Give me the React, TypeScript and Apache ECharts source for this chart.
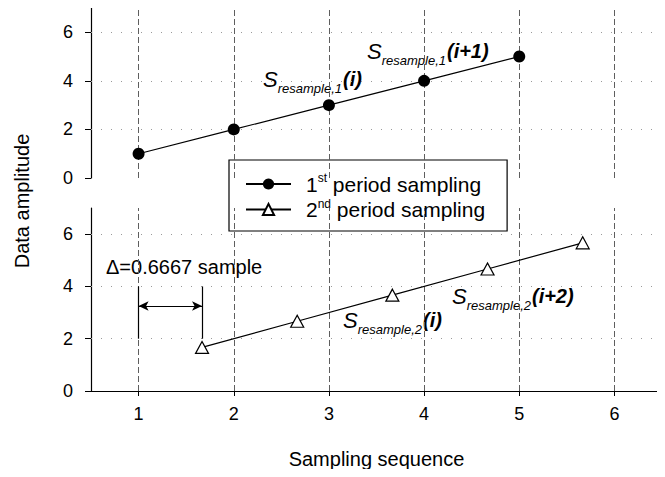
import { useEffect, useRef } from "react";
import * as echarts from "echarts";

// Sample positions and amplitudes of the two sampling periods
const firstPeriodX = [1, 2, 3, 4, 5];
const firstPeriodY = [1, 2, 3, 4, 5];
const secondPeriodX = [1.6667, 2.6667, 3.6667, 4.6667, 5.6667];
const secondPeriodY = [1.6667, 2.6667, 3.6667, 4.6667, 5.6667];

// Axis ticks
const xTicks = [1, 2, 3, 4, 5, 6];
const yTicks = [0, 2, 4, 6];
const xRange = [0.5, 6.5];
const yRange = [0, 7];

// Offset between the two periods
const delta = 0.6667;
const deltaBracket = [2, 4];
const deltaArrowY = 3.25;

const seriesNames = ["1st period sampling", "2nd period sampling"];

const FONT = '"Liberation Sans", Arial, Helvetica, sans-serif';

const subRich = {
  s: { fontSize: 22, fontStyle: "italic", fontFamily: FONT, color: "#000", lineHeight: 30, verticalAlign: "middle" },
  sub: { fontSize: 13, fontStyle: "italic", fontFamily: FONT, color: "#000", lineHeight: 31, verticalAlign: "bottom", padding: [0, 1, 0, 0] },
  p: { fontSize: 20, fontStyle: "italic", fontWeight: "bold", fontFamily: FONT, color: "#000", lineHeight: 30, verticalAlign: "middle" },
};

function annotation(x: number, y: number, idx: string, arg: string) {
  return {
    type: "text",
    x,
    y,
    silent: true,
    style: {
      text: `{s|S}{sub|resample,${idx}}{p|(${arg})}`,
      rich: subRich,
      textAlign: "left",
      textVerticalAlign: "middle",
    },
  };
}

export default function App() {
  const ref = useRef<HTMLDivElement>(null);

  useEffect(() => {
    if (!ref.current) return;
    const chart = echarts.init(ref.current, null, { renderer: "svg" });

    const gridLineSeries = (axisIdx: number) => ({
      type: "line",
      xAxisIndex: axisIdx,
      yAxisIndex: axisIdx,
      data: [],
      silent: true,
      z: 1,
      markLine: {
        silent: true,
        symbol: ["none", "none"],
        label: { show: false },
        emphasis: { disabled: true },
        animation: false,
        data: [
          ...xTicks.map((v) => ({
            xAxis: v,
            lineStyle: { color: "#5e5e5e", width: 1, type: [6, 3] },
          })),
          ...yTicks.filter((v) => v > 0).map((v) => ({
            yAxis: v,
            lineStyle: { color: "#9a9a9a", width: 1, type: [1, 9] },
          })),
        ],
      },
    });

    const axisLabelStyle = { fontFamily: FONT, fontSize: 18, color: "#000" };

    chart.setOption({
      animation: false,
      backgroundColor: "#fff",
      grid: [
        { left: 91, top: 8, width: 571, height: 170 },
        { left: 91, top: 208, width: 571, height: 183 },
      ],
      xAxis: [
        {
          type: "value",
          gridIndex: 0,
          min: xRange[0],
          max: xRange[1],
          axisLine: { show: false },
          axisTick: { show: false },
          axisLabel: { show: false },
          splitLine: { show: false },
        },
        {
          type: "value",
          gridIndex: 1,
          min: xRange[0],
          max: xRange[1],
          name: "Sampling sequence",
          nameLocation: "middle",
          nameGap: 58,
          nameTextStyle: { fontFamily: FONT, fontSize: 20, color: "#000" },
          axisLine: { show: true, lineStyle: { color: "#000", width: 1.2 } },
          axisTick: { show: true, inside: false, length: 5, customValues: xTicks, lineStyle: { color: "#000" } },
          axisLabel: { show: true, customValues: xTicks, margin: 14, ...axisLabelStyle },
          splitLine: { show: false },
        },
      ],
      yAxis: [0, 1].map((g) => ({
        type: "value",
        gridIndex: g,
        min: yRange[0],
        max: yRange[1],
        axisLine: { show: true, lineStyle: { color: "#000", width: 1.2 } },
        axisTick: { show: true, inside: false, length: 6, customValues: yTicks, lineStyle: { color: "#000" } },
        axisLabel: { show: true, customValues: yTicks, margin: 18, ...axisLabelStyle },
        splitLine: { show: false },
      })),
      legend: {
        orient: "vertical",
        left: 229,
        top: 160,
        padding: [12, 22, 11, 16],
        itemGap: 3,
        itemWidth: 45,
        itemHeight: 14,
        borderColor: "#000",
        borderWidth: 1.2,
        backgroundColor: "#fff",
        selectedMode: false,
        data: seriesNames,
        formatter: (name: string) =>
          name === seriesNames[0]
            ? "{n|1}{sup|st}{t| period sampling}"
            : "{n|2}{sup|nd}{t| period sampling}",
        textStyle: {
          fontFamily: FONT,
          fontSize: 21,
          color: "#000",
          rich: {
            n: { fontFamily: FONT, fontSize: 21, color: "#000", lineHeight: 24, padding: [0, 0, 0, 10] },
            sup: { fontFamily: FONT, fontSize: 12, color: "#000", lineHeight: 24, verticalAlign: "top" },
            t: { fontFamily: FONT, fontSize: 21, color: "#000", lineHeight: 24 },
          },
        },
      },
      series: [
        gridLineSeries(0),
        gridLineSeries(1),
        {
          name: seriesNames[0],
          type: "line",
          xAxisIndex: 0,
          yAxisIndex: 0,
          z: 5,
          data: firstPeriodX.map((x, i) => [x, firstPeriodY[i]]),
          symbol: "circle",
          symbolSize: 12,
          itemStyle: { color: "#000" },
          lineStyle: { color: "#000", width: 1.2 },
        },
        {
          name: seriesNames[1],
          type: "line",
          xAxisIndex: 1,
          yAxisIndex: 1,
          z: 5,
          data: secondPeriodX.map((x, i) => [x, secondPeriodY[i]]),
          symbol: "triangle",
          symbolSize: [13, 12],
          itemStyle: { color: "#fff", borderColor: "#000", borderWidth: 1.2 },
          lineStyle: { color: "#000", width: 1.2 },
        },
        {
          // bracket and double arrow marking the offset between periods
          type: "line",
          xAxisIndex: 1,
          yAxisIndex: 1,
          data: [],
          silent: true,
          z: 4,
          markLine: {
            silent: true,
            label: { show: false },
            emphasis: { disabled: true },
            symbol: ["none", "none"],
            lineStyle: { color: "#000", width: 1.2, type: "solid" },
            data: [
              [{ coord: [1, deltaBracket[0]] }, { coord: [1, deltaBracket[1]] }],
              [{ coord: [1 + delta, deltaBracket[0]] }, { coord: [1 + delta, deltaBracket[1]] }],
              [
                { coord: [1, deltaArrowY], symbol: "arrow", symbolSize: [7, 10] },
                { coord: [1 + delta, deltaArrowY], symbol: "arrow", symbolSize: [7, 10] },
              ],
            ],
          },
        },
      ],
      graphic: [
        {
          type: "text",
          x: 22,
          y: 201,
          rotation: Math.PI / 2,
          silent: true,
          style: {
            text: "Data amplitude",
            font: `20px ${FONT}`,
            fill: "#000",
            textAlign: "center",
            textVerticalAlign: "middle",
          },
        },
        {
          type: "text",
          x: 106,
          y: 267,
          silent: true,
          style: {
            text: `\u0394=${delta.toFixed(4)} sample`,
            font: `20px ${FONT}`,
            fill: "#000",
            textAlign: "left",
            textVerticalAlign: "middle",
          },
        },
        annotation(263, 79, "1", "i"),
        annotation(367, 51, "1", "i+1"),
        annotation(343, 320, "2", "i"),
        annotation(452, 296, "2", "i+2"),
      ],
    });

    return () => chart.dispose();
  }, []);

  return <div ref={ref} style={{ width: 665, height: 477, margin: -8 }} />;
}
